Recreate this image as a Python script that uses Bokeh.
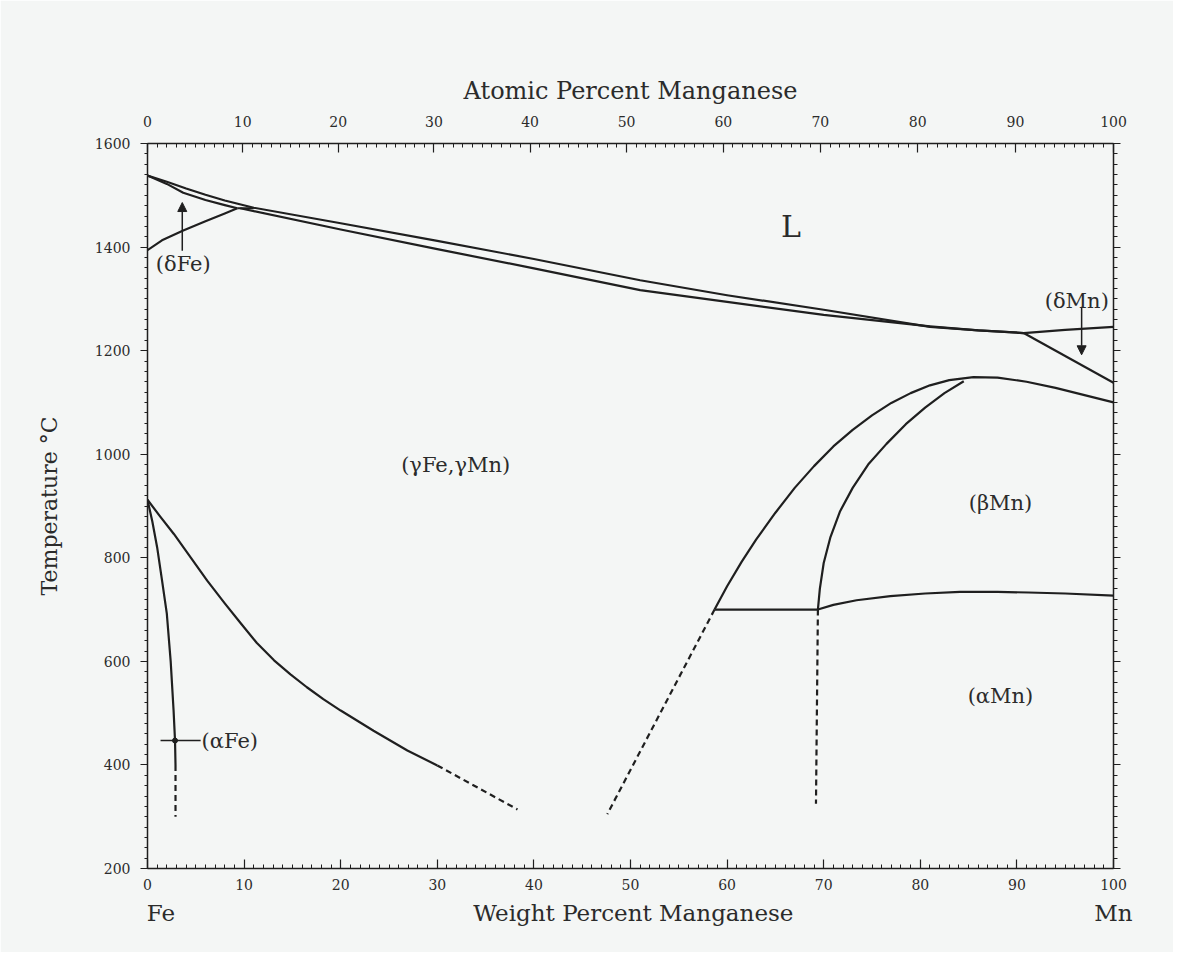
from bokeh.plotting import figure
from bokeh.models import (Range1d, LinearAxis, SingleIntervalTicker, FixedTicker,
                          CustomJSTickFormatter, Label, Arrow, NormalHead)
from bokeh.embed import file_html
from bokeh.resources import INLINE

# ---------------- data (weight % Mn, temperature °C) ----------------
liquidus_wt = [0, 2, 4, 6, 8, 11, 20, 30, 40, 51, 60, 70, 81, 86, 90.7, 95, 100]
liquidus_T = [1538, 1526, 1513, 1501, 1490, 1476, 1446, 1412, 1377, 1336, 1307, 1279, 1246, 1239, 1234, 1240, 1246]

delta_solidus_wt = [0, 1, 2, 3.7, 6, 8, 9.3]
delta_solidus_T = [1538, 1530, 1522, 1505, 1491, 1481, 1475]

delta_gamma_wt = [0, 1.5, 3.7, 6, 8, 9.3]
delta_gamma_T = [1394, 1413, 1432, 1450, 1465, 1475]

peritectic_wt = [9.3, 11]
peritectic_T = [1475, 1475]

gamma_solidus_wt = [9.6, 20, 30, 40, 51, 60, 70, 81, 86, 90.7]
gamma_solidus_T = [1475, 1434, 1396, 1359, 1317, 1294, 1269, 1247, 1239, 1234]

deltaMn_wt = [90.7, 100]
deltaMn_T = [1234, 1138]

gamma_dome_wt = [58.7, 60, 61.5, 63, 65, 67, 69, 71, 73, 75, 77, 79, 81, 83, 85.5, 88, 91, 94, 97, 100]
gamma_dome_T = [700, 745, 792, 835, 887, 935, 977, 1015, 1047, 1075, 1099, 1118, 1133, 1143, 1149, 1148, 1140, 1128, 1114, 1100]

beta_inner_wt = [69.4, 69.6, 70.0, 70.7, 71.7, 73.0, 74.6, 76.5, 78.5, 80.5, 82.5, 84.5]
beta_inner_T = [700, 740, 790, 840, 890, 935, 980, 1020, 1058, 1090, 1118, 1141]

eutectoid_wt = [58.7, 69.4]
eutectoid_T = [700, 700]

alpha_beta_wt = [69.4, 71, 73.4, 76.9, 80.5, 84.1, 88, 91.2, 95, 100]
alpha_beta_T = [700, 709, 718, 726, 731, 734, 734, 733, 731, 727]

dash_gamma_wt = [58.7, 47.6]
dash_gamma_T = [700, 305]

dash_alphaMn_wt = [69.4, 69.2]
dash_alphaMn_T = [700, 325]

alphaFe_wt = [0, 0.5, 1.0, 1.5, 2.0, 2.4, 2.7, 2.85, 2.9]
alphaFe_T = [912, 870, 820, 757, 692, 600, 505, 447, 400]
alphaFe_dash_wt = [2.9, 2.9]
alphaFe_dash_T = [400, 300]

gammaFe_wt = [0, 1.3, 2.73, 4.5, 6.18, 8, 9.63, 11.3, 13.1, 14.8, 16.5, 18.2, 20, 23.4, 26.9, 30]
gammaFe_T = [912, 880, 846, 800, 756, 712, 674, 636, 602, 575, 550, 527, 505, 466, 428, 399]
gammaFe_dash_wt = [30, 38.3]
gammaFe_dash_T = [399, 314]

pointer_wt = [1.35, 5.5]
pointer_T = [447, 447]
pointer_dot_wt = [2.85]
pointer_dot_T = [447]

arrow_x = [3.6, 96.7]
arrow_T0 = [1393, 1285]
arrow_T1 = [1486, 1192]

phase_text = ["L", "(δFe)", "(γFe,γMn)", "(βMn)", "(αMn)", "(αFe)", "(δMn)"]
phase_x = [66.6, 3.7, 31.9, 88.3, 88.3, 5.6, 96.2]
phase_y = [1440, 1368, 980, 906, 534, 447, 1296]

left_temp_text = ["1538°C", "1394°C", "912°C"]
left_temp_y = [1548, 1364, 910]
right_temp_text = ["1246°C", "1138°C", "1100°C", "727°C"]
right_temp_y = [1252, 1142, 1097, 730]

# bottom caption row: element names at the ends, axis title in the middle
caption_text = ["Fe", "Weight Percent Manganese", "Mn"]
caption_pos = [1.4, 50.3, 100]

atomic_ticks = list(range(0, 101, 10))
M_MN, M_FE = 54.938, 55.845

FONT = "DejaVu Serif"
INK = "#1f1f1f"
TXT = "#2b2b2b"
BG = "#f4f6f5"


def at_to_wt(a):
    return a * M_MN / (a * M_MN + (100 - a) * M_FE) * 100


p = figure(frame_width=966, frame_height=725,
           x_range=Range1d(0, 100), y_range=Range1d(200, 1600),
           output_backend="svg", toolbar_location=None,
           x_axis_location=None, y_axis_location=None,
           min_border_left=147, min_border_top=143,
           min_border_right=60, min_border_bottom=84,
           background_fill_color=BG, border_fill_color=BG)
p.outline_line_color = None
p.grid.visible = False


def style(ax, mi, mo, ni, no):
    ax.major_tick_in = mi
    ax.major_tick_out = mo
    ax.minor_tick_in = ni
    ax.minor_tick_out = no
    ax.axis_line_color = INK
    ax.axis_line_width = 1.5
    ax.major_tick_line_color = INK
    ax.major_tick_line_width = 1.2
    ax.minor_tick_line_color = INK
    ax.minor_tick_line_width = 1
    ax.major_label_text_font = FONT
    ax.major_label_text_font_size = "14px"
    ax.major_label_text_color = TXT
    ax.axis_label_text_font = FONT
    ax.axis_label_text_font_size = "24px"
    ax.axis_label_text_font_style = "normal"
    ax.axis_label_text_color = TXT


bottom = LinearAxis(ticker=SingleIntervalTicker(interval=10, num_minor_ticks=10))
style(bottom, 9, 0, 4, 0)
bottom.major_label_standoff = 10
p.add_layout(bottom, "below")

caption_js = "const names = %r; const pos = %r;" % (caption_text, caption_pos)
caption = LinearAxis(ticker=FixedTicker(ticks=caption_pos),
                     formatter=CustomJSTickFormatter(code=caption_js + """
                         let best = 0;
                         for (let i = 0; i < pos.length; i++) {
                             if (Math.abs(pos[i] - tick) < Math.abs(pos[best] - tick)) best = i;
                         }
                         return names[best];
                     """))
caption.axis_line_color = None
caption.major_tick_line_color = None
caption.minor_tick_line_color = None
caption.major_tick_in = 0
caption.major_tick_out = 0
caption.major_label_standoff = 7
caption.major_label_text_font = FONT
caption.major_label_text_font_size = "23px"
caption.major_label_text_color = TXT
p.add_layout(caption, "below")

left = LinearAxis(ticker=SingleIntervalTicker(interval=200, num_minor_ticks=10),
                  axis_label="Temperature °C")
style(left, 0, 7, 0, 3)
left.major_label_standoff = 10
left.axis_label_standoff = 30
left.axis_label_text_font_size = "22px"
p.add_layout(left, "left")

top = LinearAxis(ticker=FixedTicker(ticks=[at_to_wt(a) for a in atomic_ticks],
                                    minor_ticks=[at_to_wt(a) for a in range(0, 101)]),
                 formatter=CustomJSTickFormatter(code="""
                     const a = (tick/54.938) / (tick/54.938 + (100 - tick)/55.845) * 100;
                     return Math.round(a).toString();
                 """),
                 axis_label="Atomic Percent Manganese")
style(top, 9, 0, 4, 0)
top.major_label_standoff = 17
top.axis_label_standoff = 8
p.add_layout(top, "above")

right = LinearAxis(ticker=SingleIntervalTicker(interval=200, num_minor_ticks=10),
                   formatter=CustomJSTickFormatter(code="return '';"))
style(right, 0, 7, 0, 4)
p.add_layout(right, "right")

solid = [
    (liquidus_wt, liquidus_T), (delta_solidus_wt, delta_solidus_T),
    (delta_gamma_wt, delta_gamma_T), (peritectic_wt, peritectic_T),
    (gamma_solidus_wt, gamma_solidus_T), (deltaMn_wt, deltaMn_T),
    (gamma_dome_wt, gamma_dome_T), (beta_inner_wt, beta_inner_T),
    (eutectoid_wt, eutectoid_T), (alpha_beta_wt, alpha_beta_T),
    (alphaFe_wt, alphaFe_T), (gammaFe_wt, gammaFe_T),
]
for xs, ys in solid:
    p.line(xs, ys, line_color=INK, line_width=2.2, line_join="round")

dashed = [
    (dash_gamma_wt, dash_gamma_T), (dash_alphaMn_wt, dash_alphaMn_T),
    (alphaFe_dash_wt, alphaFe_dash_T), (gammaFe_dash_wt, gammaFe_dash_T),
]
for xs, ys in dashed:
    p.line(xs, ys, line_color=INK, line_width=2.2, line_dash="6 4")

p.line(pointer_wt, pointer_T, line_color=INK, line_width=1.5)
p.scatter(pointer_dot_wt, pointer_dot_T, size=5, color=INK)

for x, y0, y1 in zip(arrow_x, arrow_T0, arrow_T1):
    p.add_layout(Arrow(end=NormalHead(size=9, fill_color=INK, line_color=INK),
                       x_start=x, y_start=y0, x_end=x, y_end=y1,
                       line_color=INK, line_width=1.5))

for t, x, y in zip(phase_text, phase_x, phase_y):
    p.add_layout(Label(x=x, y=y, text=t, text_font=FONT,
                       text_font_size="30px" if t == "L" else "21px",
                       text_color=TXT,
                       text_align="left" if t == "(αFe)" else "center",
                       text_baseline="middle"))

for t, y in zip(left_temp_text, left_temp_y):
    p.add_layout(Label(x=-0.7, y=y, text=t, text_font=FONT, text_font_size="12px",
                       text_color="#111111", text_align="right", text_baseline="middle"))

for t, y in zip(right_temp_text, right_temp_y):
    p.add_layout(Label(x=100.4, y=y, text=t, text_font=FONT, text_font_size="12px",
                       text_color="#111111", text_align="left", text_baseline="middle"))

open("out.html", "w").write(file_html(p, INLINE))
